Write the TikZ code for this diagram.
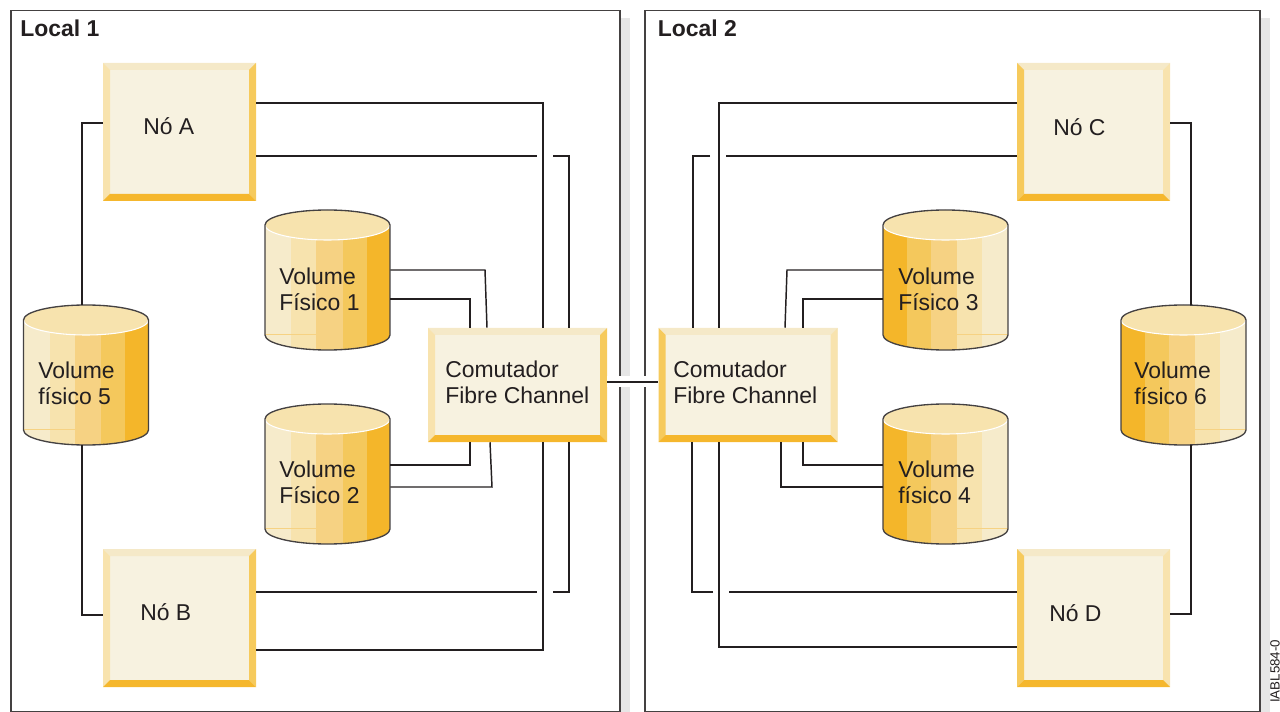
\documentclass[tikz,border=0pt]{standalone}
\usepackage{fontspec}
\usepackage{tikz}
\usetikzlibrary{calc}
\setmainfont{Liberation Sans}

\definecolor{boxface}{HTML}{F7F2E0}
\definecolor{bevelTop}{HTML}{F5E9C8}
\definecolor{bevelPale}{HTML}{F8E3AE}
\definecolor{bevelMid}{HTML}{F6CA5C}
\definecolor{bevelDark}{HTML}{F5B72D}
\definecolor{stripeA}{HTML}{F6EBCB}
\definecolor{stripeB}{HTML}{F7E3AE}
\definecolor{stripeC}{HTML}{F6D283}
\definecolor{stripeD}{HTML}{F4C85C}
\definecolor{stripeE}{HTML}{F4B62A}
\definecolor{wireblack}{HTML}{231F20}
\definecolor{shadowgrey}{HTML}{E6E6E6}

\newcommand{\volumeoutline}{(-62.5,-55) -- (-62.5,55) .. controls (-62.5,63.3) and (-34.5,70) .. (0,70) .. controls (34.5,70) and (62.5,63.3) .. (62.5,55) -- (62.5,-55) .. controls (62.5,-63.3) and (34.5,-70) .. (0,-70) .. controls (-34.5,-70) and (-62.5,-63.3) .. (-62.5,-55) -- cycle}

\tikzset{
  bevelbox/.style 2 args={fill=boxface, inner sep=0pt, path picture={
    \path (path picture bounding box.north west) coordinate (nw) (path picture bounding box.north east) coordinate (ne)
          (path picture bounding box.south west) coordinate (sw) (path picture bounding box.south east) coordinate (se);
    \fill[bevelTop] (nw) -- (ne) -- ($(ne)+(-7,7)$) -- ($(nw)+(7,7)$) -- cycle;
    \fill[#1] (nw) -- (sw) -- ($(sw)+(7,-7)$) -- ($(nw)+(7,7)$) -- cycle;
    \fill[#2] (ne) -- (se) -- ($(se)+(-7,-7)$) -- ($(ne)+(-7,7)$) -- cycle;
    \fill[bevelDark] (sw) -- (se) -- ($(se)+(-7,-7)$) -- ($(sw)+(7,-7)$) -- cycle;
  }},
  nobox/.style 2 args={bevelbox={#1}{#2}, minimum width=153*0.75pt, minimum height=138*0.75pt},
  switchbox/.style 2 args={bevelbox={#1}{#2}, minimum width=179*0.75pt, minimum height=114*0.75pt},
  volbox/.style={inner sep=0pt, minimum width=128*0.75pt, minimum height=143*0.75pt, path picture={
    \begin{scope}[shift={(path picture bounding box.center)}, x=#1*0.75pt]
      \begin{scope}
        \clip \volumeoutline;
        \fill[stripeA] (-63,-71) rectangle (-36.5,71);
        \fill[stripeB] (-36.5,-71) rectangle (-11.5,71);
        \fill[stripeC] (-11.5,-71) rectangle (15,71);
        \fill[stripeD] (15,-71) rectangle (39,71);
        \fill[stripeE] (39,-71) rectangle (63,71);
        \draw[stripeC, line width=0.6pt] (-62.5,54.5) -- (-11.5,54.5);
        \fill[stripeB] (0,-55) ellipse [x radius=62.5, y radius=15];
        \draw[white, line width=0.8pt] (-62.5,-55) .. controls (-62.5,-46.7) and (-34.5,-40) .. (0,-40) .. controls (34.5,-40) and (62.5,-46.7) .. (62.5,-55);
      \end{scope}
      \draw[wireblack!85, line width=1pt] \volumeoutline;
    \end{scope}
  }},
  wire/.style={draw=wireblack, line width=1.1pt},
  sitelabel/.style={font=\fontsize{17.2}{19.5}\selectfont\bfseries, anchor=west, inner sep=0pt, text=wireblack},
  boxlabel/.style={font=\fontsize{17.2}{19.5}\selectfont, align=left, anchor=west, inner sep=0pt, text=wireblack},
  frame/.style={draw=wireblack!85, line width=1pt}
}

\begin{document}
\begin{tikzpicture}[x=0.75pt, y=-0.75pt]
\useasboundingbox (0,0) rectangle (1280,712);

% shadows and site frames
\fill[shadowgrey] (620,18) rectangle (629.5,712);
\fill[shadowgrey] (1260,18) rectangle (1270,712);
\node [frame, inner sep=0pt, minimum width=609*0.75pt, minimum height=701*0.75pt] (local_1) at (315.5,361) {};
\node [frame, inner sep=0pt, minimum width=615*0.75pt, minimum height=701*0.75pt] (local_2) at (952.5,361) {};

\node [sitelabel] (local_1_txt) at (20,28) {Local 1};
\node [sitelabel] (local_2_txt) at (657.5,28) {Local 2};

% nodes
\node [nobox={bevelPale}{bevelMid}] (no_a) at (179.5,132) {};
\node [nobox={bevelPale}{bevelMid}] (no_b) at (179.5,618) {};
\node [nobox={bevelMid}{bevelPale}] (no_c) at (1093.5,132) {};
\node [nobox={bevelMid}{bevelPale}] (no_d) at (1093.5,618) {};

\node [boxlabel] (no_a_txt) at (143,126) {Nó A};
\node [boxlabel] (no_b_txt) at (140,612) {Nó B};
\node [boxlabel] (no_c_txt) at (1053,127) {Nó C};
\node [boxlabel] (no_d_txt) at (1049,613) {Nó D};

% switches
\node [switchbox={bevelPale}{bevelMid}] (sw_1) at (517.5,385) {};
\node [switchbox={bevelMid}{bevelPale}] (sw_2) at (748,385) {};

\node [boxlabel] (sw_1_txt) at (445,382) {Comutador\\Fibre Channel};
\node [boxlabel] (sw_2_txt) at (673,382) {Comutador\\Fibre Channel};

% volumes
\node [volbox=1] (vol_1) at (327.5,280) {};
\node [volbox=1] (vol_2) at (327.5,474) {};
\node [volbox=-1] (vol_3) at (945.5,280) {};
\node [volbox=-1] (vol_4) at (945.5,474) {};
\node [volbox=1] (vol_5) at (86,375) {};
\node [volbox=-1] (vol_6) at (1183.5,375) {};

\node [boxlabel] (vol_1_txt) at (279,289) {Volume\\Físico 1};
\node [boxlabel] (vol_2_txt) at (279,482) {Volume\\Físico 2};
\node [boxlabel] (vol_3_txt) at (898,289) {Volume\\Físico 3};
\node [boxlabel] (vol_4_txt) at (898,482) {Volume\\físico 4};
\node [boxlabel] (vol_5_txt) at (38,383) {Volume\\físico 5};
\node [boxlabel] (vol_6_txt) at (1134,383) {Volume\\físico 6};

\node [rotate=90, anchor=base west, inner sep=0pt, font=\fontsize{10}{12}\selectfont, text=wireblack] (fig_id) at (1279.5,703) {IABL584-0};

% ends of the broken wires
\coordinate (gap_a1) at (537,156);
\coordinate (gap_a2) at (553,156);
\coordinate (gap_b1) at (537,592);
\coordinate (gap_b2) at (553,592);
\coordinate (gap_c1) at (710,156);
\coordinate (gap_c2) at (726,156);
\coordinate (gap_d1) at (713,592);
\coordinate (gap_d2) at (729,592);

% wires, local 1
\draw[wire] ($(no_a.west)+(0,-9)$) -| ($(vol_5.north)+(-4,1.5)$);
\draw[wire] ($(no_b.west)+(0,-3)$) -| ($(vol_5.south)+(-4,-1.5)$);
\draw[wire] ($(no_a.east)+(0,-29)$) -| ($(sw_1.north)+(25.5,0)$);
\draw[wire] ($(no_a.east)+(0,24)$) -- (gap_a1);
\draw[wire] (gap_a2) -| ($(sw_1.north)+(51.5,0)$);
\draw[wire] ($(no_b.east)+(0,-26)$) -- (gap_b1);
\draw[wire] (gap_b2) -| ($(sw_1.south)+(51.5,0)$);
\draw[wire] ($(no_b.east)+(0,32)$) -| ($(sw_1.south)+(25.5,0)$);
\draw[wire] ($(vol_1.east)+(-1.5,-10)$) -- (485,270) -- ($(sw_1.north)+(-30.5,0)$);
\draw[wire] ($(vol_1.east)+(-1.5,19)$) -| ($(sw_1.north)+(-47.5,0)$);
\draw[wire] ($(vol_2.east)+(-1.5,-9)$) -| ($(sw_1.south)+(-47.5,0)$);
\draw[wire] ($(vol_2.east)+(-1.5,13)$) -- (492,487) -- ($(sw_1.south)+(-27.5,0)$);

% wires, local 2
\draw[wire] ($(no_c.east)+(0,-9)$) -| ($(vol_6.north)+(7.5,1.5)$);
\draw[wire] ($(no_d.east)+(0,-4)$) -| ($(vol_6.south)+(7.5,-1.5)$);
\draw[wire] ($(no_c.west)+(0,-29)$) -| ($(sw_2.north)+(-29,0)$);
\draw[wire] ($(no_c.west)+(0,24)$) -- (gap_c2);
\draw[wire] (gap_c1) -| ($(sw_2.north)+(-55,0)$);
\draw[wire] ($(no_d.west)+(0,-26)$) -- (gap_d2);
\draw[wire] (gap_d1) -| ($(sw_2.south)+(-56,0)$);
\draw[wire] ($(no_d.west)+(0,29)$) -| ($(sw_2.south)+(-29,0)$);
\draw[wire] ($(vol_3.west)+(1.5,-10)$) -- (787,270) -- ($(sw_2.north)+(37,0)$);
\draw[wire] ($(vol_3.west)+(1.5,19)$) -| ($(sw_2.north)+(55,0)$);
\draw[wire] ($(vol_4.west)+(1.5,-9)$) -| ($(sw_2.south)+(55,0)$);
\draw[wire] ($(vol_4.west)+(1.5,13)$) -- (781,487) -- ($(sw_2.south)+(33,0)$);

% link between the two switches
\draw[wire, preaction={draw=white, line width=8.25pt}] ($(sw_1.east)+(0,-3)$) -- ($(sw_2.west)+(0,-3)$);

\end{tikzpicture}
\end{document}
